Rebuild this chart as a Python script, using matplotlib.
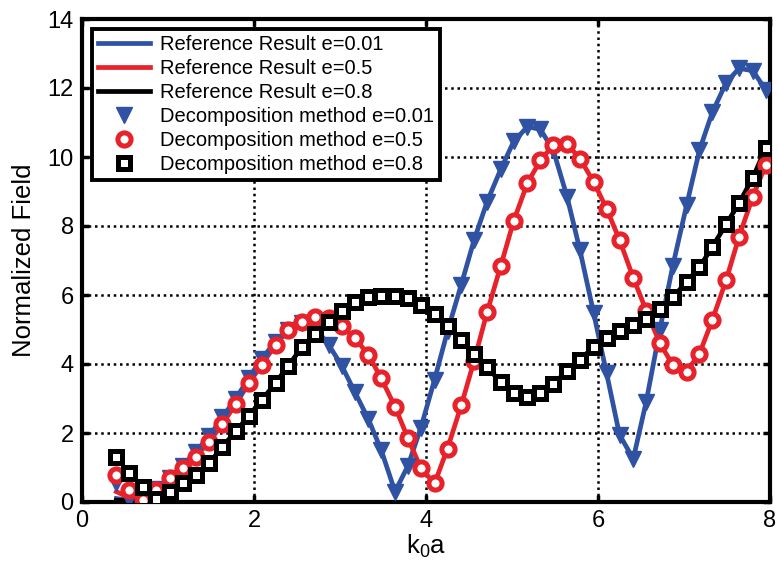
import matplotlib
matplotlib.use("Agg")
import matplotlib.pyplot as plt

plt.rcParams['font.family'] = ['Liberation Sans', 'DejaVu Sans']

# k0a sample points (50 points from 0.4 to about 7.95)
ka = [0.40, 0.55, 0.71, 0.86, 1.02, 1.17, 1.32, 1.48, 1.63, 1.79,
      1.94, 2.09, 2.25, 2.40, 2.56, 2.71, 2.87, 3.02, 3.17, 3.33,
      3.48, 3.64, 3.79, 3.94, 4.10, 4.25, 4.41, 4.56, 4.71, 4.87,
      5.02, 5.18, 5.33, 5.48, 5.64, 5.79, 5.95, 6.10, 6.25, 6.41,
      6.56, 6.72, 6.87, 7.03, 7.18, 7.33, 7.49, 7.64, 7.80, 7.95]

# decomposition method (markers)
dec_001 = [0.55, 0.08, 0.05, 0.38, 0.70, 1.05, 1.45, 1.90, 2.45, 3.00,
           3.60, 4.15, 4.65, 5.00, 5.20, 5.05, 4.55, 3.95, 3.20, 2.40,
           1.50, 0.30, 1.05, 2.15, 3.55, 4.95, 6.30, 7.60, 8.70, 9.65,
           10.45, 10.88, 10.80, 10.20, 8.85, 7.30, 5.47, 3.73, 1.95, 1.25,
           2.90, 5.00, 6.85, 8.60, 10.20, 11.30, 12.15, 12.57, 12.50, 11.95]
dec_05 = [0.78, 0.35, 0.05, 0.36, 0.69, 1.00, 1.30, 1.75, 2.25, 2.85,
          3.44, 3.98, 4.55, 4.99, 5.23, 5.37, 5.32, 5.10, 4.76, 4.27,
          3.58, 2.76, 1.85, 0.98, 0.54, 1.55, 2.80, 4.10, 5.50, 6.85,
          8.15, 9.25, 9.90, 10.35, 10.38, 9.95, 9.28, 8.50, 7.60, 6.50,
          5.55, 4.60, 3.97, 3.78, 4.30, 5.28, 6.43, 7.69, 8.85, 9.77]
dec_08 = [1.30, 0.83, 0.44, 0.08, 0.30, 0.54, 0.78, 1.12, 1.60, 2.05,
          2.50, 2.95, 3.45, 3.95, 4.50, 4.88, 5.23, 5.55, 5.80, 5.95,
          5.98, 5.97, 5.90, 5.72, 5.45, 5.10, 4.70, 4.28, 3.90, 3.48,
          3.15, 3.05, 3.15, 3.42, 3.80, 4.12, 4.50, 4.76, 4.96, 5.13,
          5.30, 5.60, 5.93, 6.38, 6.80, 7.40, 8.05, 8.66, 9.40, 10.25]

# reference result (lines): differs from the markers only at small k0a
ref_001 = [0.10, 0.05, 0.05, 0.38] + dec_001[4:]
ref_05 = [0.30, 0.12, 0.05, 0.36] + dec_05[4:]
ref_08 = [0.05, 0.04, 0.04, 0.08] + dec_08[4:]

blue = '#2F52A3'
red = '#E8222B'

fig = plt.figure(figsize=(7.78, 5.74), dpi=100)
ax = fig.add_axes([82 / 778, 1 - 502 / 574, 688 / 778, 483 / 574])

ax.plot(ka, ref_001, color=blue, lw=3.4, label='Reference Result e=0.01', zorder=2)
ax.plot(ka, ref_05, color=red, lw=3.4, label='Reference Result e=0.5', zorder=2)
ax.plot(ka, ref_08, color='black', lw=3.4, label='Reference Result e=0.8', zorder=2)

ax.plot(ka, dec_001, ls='none', marker='v', ms=12, color=blue,
        label='Decomposition method e=0.01', zorder=3)
ax.plot(ka, dec_05, ls='none', marker='o', ms=9.5, mfc='white', mec=red, mew=3.6,
        label='Decomposition method e=0.5', zorder=3)
ax.plot(ka, dec_08, ls='none', marker='s', ms=8, mfc='white', mec='black', mew=3.6,
        label='Decomposition method e=0.8', zorder=3)

ax.set_xlim(0, 8)
ax.set_ylim(0, 14)
ax.set_xticks([0, 2, 4, 6, 8])
ax.set_yticks(range(0, 15, 2))
ax.grid(True, color='black', linestyle=(0, (1, 1.5)), linewidth=1.8)
ax.set_axisbelow(True)
ax.tick_params(direction='in', length=5, width=2.5, labelsize=17,
               top=True, right=True, pad=6)
for s in ax.spines.values():
    s.set_linewidth(3)

ax.set_xlabel(r'k$_\mathregular{0}$a', fontsize=18.5, labelpad=0)
ax.set_ylabel('Normalized Field', fontsize=18.5, labelpad=8)

leg = ax.legend(loc='upper left', fontsize=14.5, handlelength=2.6,
                handletextpad=0.45, labelspacing=0.25, borderpad=0.3,
                fancybox=False, framealpha=1, edgecolor='black')
leg.get_frame().set_linewidth(2.8)

fig.savefig('out.png', dpi=100)
